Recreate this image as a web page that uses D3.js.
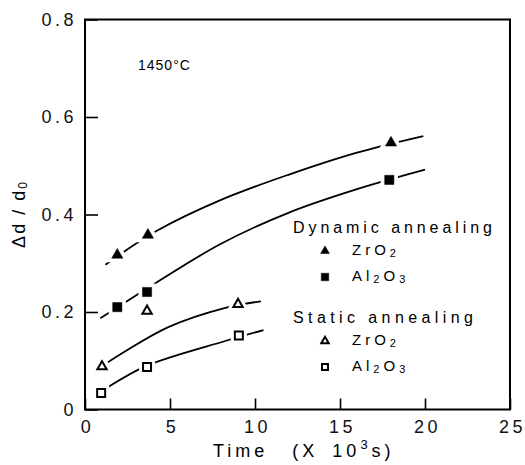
<!DOCTYPE html>
<html>
<head>
<meta charset="utf-8">
<script src="https://cdn.jsdelivr.net/npm/d3@7"></script>
<style>
  body { margin: 0; background: #fff; }
  svg { font-family: "Liberation Sans", Arial, sans-serif; }
</style>
</head>
<body>
<div id="chart"></div>
<script>
// measured points (time in 10^3 s, Δd/d0)
const dynZrO2Time = [1.9, 3.7, 18];
const dynZrO2Val = [0.317, 0.358, 0.547];
const dynAl2O3Time = [1.9, 3.65, 17.9];
const dynAl2O3Val = [0.21, 0.241, 0.471];
const statZrO2Time = [1.0, 3.65, 9.0];
const statZrO2Val = [0.088, 0.202, 0.216];
const statAl2O3Time = [0.95, 3.65, 9.05];
const statAl2O3Val = [0.034, 0.087, 0.152];

// fitted curves
const dynZrO2FitTime = [1.2, 4.2, 8, 12, 16, 19.9];
const dynZrO2FitVal = [0.297, 0.366, 0.430, 0.482, 0.527, 0.561];
const dynAl2O3FitTime = [0.9, 4, 8, 12, 16, 20];
const dynAl2O3FitVal = [0.187, 0.256, 0.340, 0.404, 0.452, 0.492];
const statZrO2FitTime = [1.35, 2.35, 4.9, 8.2, 10.35];
const statZrO2FitVal = [0.097, 0.119, 0.169, 0.208, 0.222];
const statAl2O3FitTime = [1.36, 3.65, 8.2, 10.5];
const statAl2O3FitVal = [0.046, 0.09, 0.14, 0.163];

const xTicks = [0, 5, 10, 15, 20, 25];
const yTicks = [0, 0.2, 0.4, 0.6, 0.8];

const margin = { top: 19.5, right: 15, bottom: 55.5, left: 85 },
  width = 525 - margin.left - margin.right,
  height = 465 - margin.top - margin.bottom;

const svg = d3.select("#chart")
  .append("svg")
  .attr("width", 525)
  .attr("height", 465)
  .append("g")
  .attr("transform", `translate(${margin.left},${margin.top})`);

const x = d3.scaleLinear().domain([0, 25]).range([0, width]);
const y = d3.scaleLinear().domain([0, 0.8]).range([height, 0]);

// axes, ticks pointing inward
const xAxis = svg.append("g")
  .attr("transform", `translate(0,${height})`)
  .call(d3.axisBottom(x).tickValues(xTicks).tickSize(-11).tickPadding(11).tickFormat(d3.format("d")));
const yAxis = svg.append("g")
  .call(d3.axisLeft(y).tickValues(yTicks).tickSize(-13).tickPadding(8)
    .tickFormat(d => d === 0 ? "0" : d3.format(".1f")(d)));

[xAxis, yAxis].forEach(a => {
  a.select(".domain").remove();
  a.selectAll("line").attr("stroke", "#000").attr("stroke-width", 1.6);
  a.selectAll("text")
    .attr("fill", "#111")
    .style("font-size", "18px")
    .style("letter-spacing", "3.5px");
});
xAxis.selectAll("text").attr("dx", 2);

// frame
svg.append("rect")
  .attr("width", width)
  .attr("height", height)
  .attr("fill", "none")
  .attr("stroke", "#000")
  .attr("stroke-width", 2);

// curves
const line = d3.line()
  .x(d => x(d[0]))
  .y(d => y(d[1]))
  .curve(d3.curveCatmullRom.alpha(0.5));

const fits = [
  [dynZrO2FitTime, dynZrO2FitVal],
  [dynAl2O3FitTime, dynAl2O3FitVal],
  [statZrO2FitTime, statZrO2FitVal],
  [statAl2O3FitTime, statAl2O3FitVal]
];
fits.forEach(([t, v]) => {
  svg.append("path")
    .datum(d3.zip(t, v))
    .attr("fill", "none")
    .attr("stroke", "#000")
    .attr("stroke-width", 1.8)
    .attr("d", line);
});

// markers
const series = [
  { t: dynZrO2Time, v: dynZrO2Val, type: d3.symbolTriangle, size: 55, filled: true },
  { t: dynAl2O3Time, v: dynAl2O3Val, type: d3.symbolSquare, size: 85, filled: true },
  { t: statZrO2Time, v: statZrO2Val, type: d3.symbolTriangle, size: 38, filled: false },
  { t: statAl2O3Time, v: statAl2O3Val, type: d3.symbolSquare, size: 64, filled: false }
];

series.forEach(s => {
  const pts = d3.zip(s.t, s.v);
  const sym = d3.symbol().type(s.type).size(s.size);
  // white halo to break the curve around each marker
  svg.selectAll(null)
    .data(pts)
    .join("path")
    .attr("transform", d => `translate(${x(d[0])},${y(d[1])})`)
    .attr("d", sym)
    .attr("fill", "#fff")
    .attr("stroke", "#fff")
    .attr("stroke-width", 8);
  svg.selectAll(null)
    .data(pts)
    .join("path")
    .attr("transform", d => `translate(${x(d[0])},${y(d[1])})`)
    .attr("d", sym)
    .attr("fill", s.filled ? "#000" : "#fff")
    .attr("stroke", "#000")
    .attr("stroke-width", s.filled ? 0.5 : 2);
});

// annotation
const root = d3.select("svg");
root.append("text")
  .attr("x", 138)
  .attr("y", 70)
  .style("font-size", "14px")
  .style("letter-spacing", "1px")
  .text("1450°C");

// legend
function chem(sel, parts) {
  parts.forEach(p => {
    sel.append("tspan")
      .attr("dy", p.sub ? 2 : (p.after ? -2 : 0))
      .style("font-size", p.sub ? "11px" : null)
      .text(p.s);
  });
}

const legend = [
  { head: "Dynamic annealing", hy: 233, hw: 199 },
  { head: "Static annealing", hy: 323, hw: 180 }
];
legend.forEach(l => {
  root.append("text")
    .attr("x", 293)
    .attr("y", l.hy)
    .attr("textLength", l.hw)
    .style("font-size", "16px")
    .text(l.head);
});

const legendItems = [
  { y: 255, type: d3.symbolTriangle, size: 34, filled: true, parts: [{ s: "ZrO" }, { s: "2", sub: true }] },
  { y: 281, type: d3.symbolSquare, size: 56, filled: true, parts: [{ s: "Al" }, { s: "2", sub: true }, { s: "O", after: true }, { s: "3", sub: true }] },
  { y: 345, type: d3.symbolTriangle, size: 24, filled: false, parts: [{ s: "ZrO" }, { s: "2", sub: true }] },
  { y: 371, type: d3.symbolSquare, size: 36, filled: false, parts: [{ s: "Al" }, { s: "2", sub: true }, { s: "O", after: true }, { s: "3", sub: true }] }
];
legendItems.forEach(it => {
  root.append("path")
    .attr("transform", `translate(325,${it.y - 4})`)
    .attr("d", d3.symbol().type(it.type).size(it.size))
    .attr("fill", it.filled ? "#000" : "#fff")
    .attr("stroke", "#000")
    .attr("stroke-width", it.filled ? 0.5 : 2);
  const t = root.append("text")
    .attr("x", 352)
    .attr("y", it.y)
    .style("font-size", "15px")
    .style("letter-spacing", "4px");
  chem(t, it.parts);
});

// axis titles
const xl = root.append("text")
  .attr("x", 213)
  .attr("y", 457)
  .style("font-size", "18px")
  .style("letter-spacing", "4px");
xl.append("tspan").text("Time");
xl.append("tspan").attr("dx", 24).text("(X");
xl.append("tspan").attr("dx", 14).text("10");
xl.append("tspan").attr("dy", -8).style("font-size", "13px").text("3");
xl.append("tspan").attr("dy", 8).text("s)");

const yl = root.append("text")
  .attr("transform", "translate(25,214) rotate(-90)")
  .attr("text-anchor", "middle")
  .style("font-size", "18px")
  .style("letter-spacing", "2px");
yl.append("tspan").text("Δd / d");
yl.append("tspan").attr("dy", 2).style("font-size", "12px").text("0");
</script>
</body>
</html>
